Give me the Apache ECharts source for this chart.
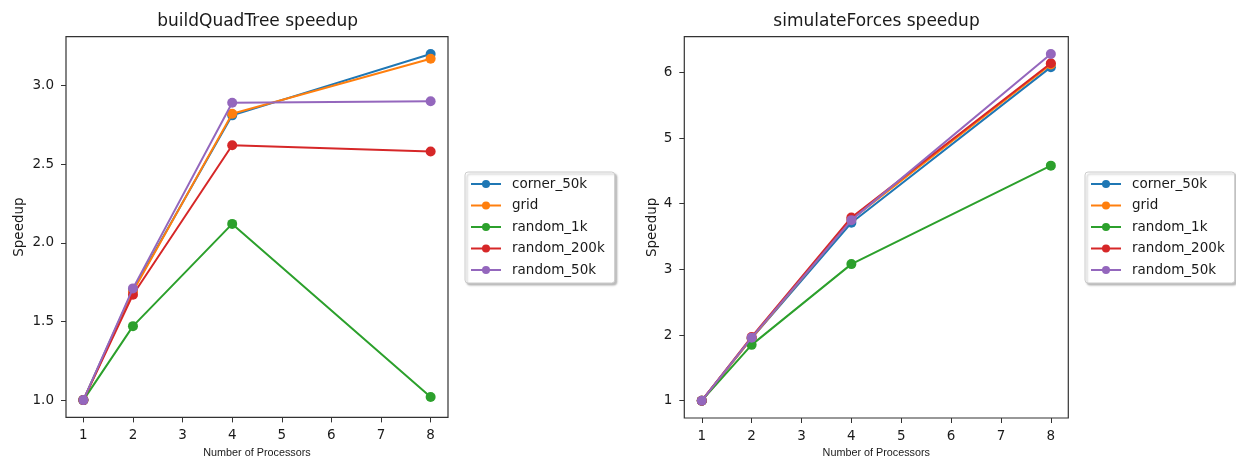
<!DOCTYPE html>
<html>
<head>
<meta charset="utf-8">
<script src="https://cdn.jsdelivr.net/npm/echarts@6/dist/echarts.min.js"></script>
<style>
html,body{margin:0;padding:0;background:#fff;}
#c{width:1236px;height:457px;}
</style>
</head>
<body>
<div id="c"></div>
<script>
const processors = [1, 2, 4, 8];
const seriesNames = ['corner_50k', 'grid', 'random_1k', 'random_200k', 'random_50k'];
const colors = ['#1f77b4', '#ff7f0e', '#2ca02c', '#d62728', '#9467bd'];

// buildQuadTree speedup
const bq_corner_50k  = [1.00, 1.70, 2.81, 3.20];
const bq_grid        = [1.00, 1.69, 2.82, 3.17];
const bq_random_1k   = [1.00, 1.47, 2.12, 1.02];
const bq_random_200k = [1.00, 1.67, 2.62, 2.58];
const bq_random_50k  = [1.00, 1.71, 2.89, 2.90];

// simulateForces speedup
const sf_corner_50k  = [1.00, 1.95, 3.71, 6.08];
const sf_grid        = [1.00, 1.95, 3.76, 6.12];
const sf_random_1k   = [1.00, 1.85, 3.08, 4.58];
const sf_random_200k = [1.00, 1.97, 3.79, 6.14];
const sf_random_50k  = [1.00, 1.96, 3.75, 6.28];

const xTicks = [1, 2, 3, 4, 5, 6, 7, 8];
const yTicksLeft = [1.0, 1.5, 2.0, 2.5, 3.0];
const yTicksRight = [1, 2, 3, 4, 5, 6];

const titles = ['buildQuadTree speedup', 'simulateForces speedup'];
const xName = 'Number of Processors';
const yName = 'Speedup';

const leftData = [bq_corner_50k, bq_grid, bq_random_1k, bq_random_200k, bq_random_50k];
const rightData = [sf_corner_50k, sf_grid, sf_random_1k, sf_random_200k, sf_random_50k];

const mainFont = 'DejaVu Sans';
const textColor = '#1a1a1a';
const frameColor = '#333';

function mkSeries(arr, idx) {
  return arr.map((vals, i) => ({
    name: seriesNames[i],
    type: 'line',
    xAxisIndex: idx,
    yAxisIndex: idx,
    data: vals.map((v, j) => [processors[j], v]),
    symbol: 'circle',
    symbolSize: 10,
    showSymbol: true,
    lineStyle: { width: 2, color: colors[i] },
    itemStyle: { color: colors[i] },
    emphasis: { disabled: true },
    animation: false,
    z: 2 + i
  }));
}

function mkXAxis(idx) {
  return {
    type: 'value', gridIndex: idx, min: 0.65, max: 8.35,
    name: xName, nameLocation: 'middle', nameGap: 28.5,
    nameTextStyle: { fontFamily: 'Liberation Sans', fontSize: 10.8, color: textColor },
    axisLine: { show: false },
    splitLine: { show: false },
    axisTick: { show: true, inside: false, length: 5, customValues: xTicks, lineStyle: { color: frameColor } },
    axisLabel: { customValues: xTicks, fontFamily: mainFont, fontSize: 13.5, color: textColor, margin: 11 }
  };
}

function mkYAxis(idx, min, max, ticks, dec, gap) {
  return {
    type: 'value', gridIndex: idx, min: min, max: max,
    name: yName, nameLocation: 'middle', nameGap: gap,
    nameTextStyle: { fontFamily: mainFont, fontSize: 13.5, color: textColor },
    axisLine: { show: false },
    splitLine: { show: false },
    axisTick: { show: true, inside: false, length: 5, customValues: ticks, lineStyle: { color: frameColor } },
    axisLabel: { customValues: ticks, fontFamily: mainFont, fontSize: 13.5, color: textColor, margin: 12,
      formatter: v => v.toFixed(dec) }
  };
}

function mkLegend(left) {
  return {
    orient: 'vertical', left: left, top: 172,
    data: seriesNames,
    itemWidth: 30, itemHeight: 10, itemGap: 5.5,
    padding: [4, 10, 5, 5],
    backgroundColor: '#fff',
    borderColor: '#cccccc', borderWidth: 1, borderRadius: 3,
    shadowBlur: 2, shadowColor: 'rgba(0,0,0,0.25)', shadowOffsetX: 2, shadowOffsetY: 2,
    selectedMode: false,
    textStyle: { fontFamily: mainFont, fontSize: 13.5, color: textColor, lineHeight: 16, padding: [0, 0, 0, 6] }
  };
}

const chart = echarts.init(document.getElementById('c'), null, { renderer: 'canvas' });
chart.setOption({
  backgroundColor: '#fff',
  animation: false,
  title: [
    { text: titles[0], left: 257.7, textAlign: 'center', top: 13, padding: 0,
      textStyle: { fontFamily: mainFont, fontSize: 17, fontWeight: 'normal', color: textColor } },
    { text: titles[1], left: 876.5, textAlign: 'center', top: 13, padding: 0,
      textStyle: { fontFamily: mainFont, fontSize: 17, fontWeight: 'normal', color: textColor } }
  ],
  grid: [
    { left: 66, top: 36.7, width: 382, height: 380.7, show: true, borderColor: frameColor, borderWidth: 1.2,
      backgroundColor: 'transparent', containLabel: false, outerBoundsMode: 'none' },
    { left: 684.3, top: 36.7, width: 384, height: 381.3, show: true, borderColor: frameColor, borderWidth: 1.2,
      backgroundColor: 'transparent', containLabel: false, outerBoundsMode: 'none' }
  ],
  xAxis: [mkXAxis(0), mkXAxis(1)],
  yAxis: [
    mkYAxis(0, 0.89, 3.31, yTicksLeft, 1, 40),
    mkYAxis(1, 0.736, 6.544, yTicksRight, 0, 25)
  ],
  legend: [mkLegend(465), mkLegend(1085)],
  series: [...mkSeries(leftData, 0), ...mkSeries(rightData, 1)]
});
</script>
</body>
</html>
